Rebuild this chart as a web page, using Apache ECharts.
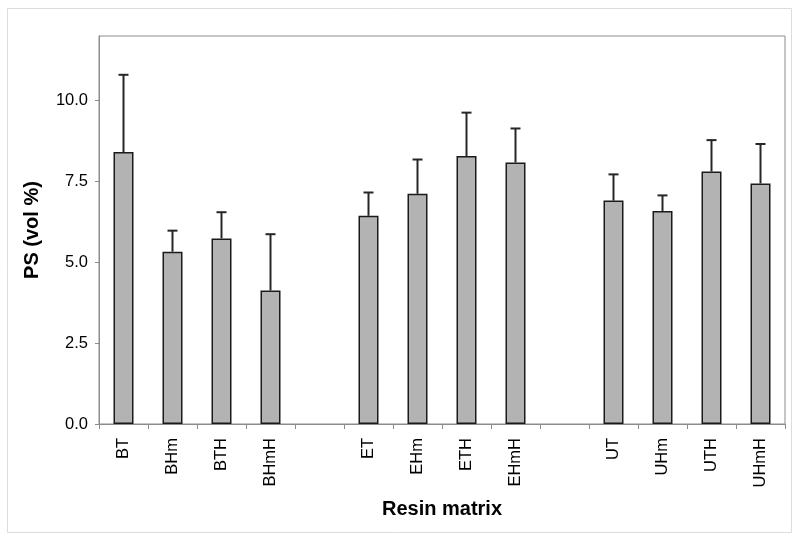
<!DOCTYPE html>
<html>
<head>
<meta charset="utf-8">
<script src="https://cdn.jsdelivr.net/npm/echarts@6/dist/echarts.min.js"></script>
<style>html,body{margin:0;padding:0;background:#fff;}#c{width:800px;height:542px;}</style>
</head>
<body>
<div id="c"></div>
<script>
// Data (empty strings / nulls are the visual gaps between resin groups)
var categories = ['BT','BHm','BTH','BHmH','','ET','EHm','ETH','EHmH','','UT','UHm','UTH','UHmH'];
var means      = [8.41, 5.33, 5.74, 4.13, null, 6.44, 7.12, 8.29, 8.09, null, 6.91, 6.59, 7.81, 7.44];
var upper      = [10.80, 5.98, 6.55, 5.87, null, 7.16, 8.18, 9.63, 9.14, null, 7.72, 7.07, 8.78, 8.66];
var yTicks     = [0, 2.5, 5, 7.5, 10];

var chart = echarts.init(document.getElementById('c'), null, {renderer:'canvas'});
var errData = [];
for (var i = 0; i < categories.length; i++) {
  if (means[i] != null) errData.push([i, means[i], upper[i]]);
}
var font = 'Liberation Sans, Arial, sans-serif';
chart.setOption({
  animation: false,
  backgroundColor: '#fff',
  graphic: [{
    type: 'rect', shape: {x: 7.5, y: 8.5, width: 784, height: 524},
    style: {fill: 'none', stroke: '#dcdcdc', lineWidth: 1}, silent: true, z: -1
  }],
  grid: {left: 99, right: 15, top: 36, bottom: 118, show: true, borderColor: '#8c8c8c', borderWidth: 1, backgroundColor: 'transparent'},
  xAxis: {
    type: 'category', data: categories,
    axisLine: {lineStyle: {color: '#8c8c8c', width: 1}},
    axisTick: {show: true, alignWithLabel: false, length: 5, lineStyle: {color: '#8c8c8c'}},
    axisLabel: {rotate: 90, interval: 0, color: '#000', fontSize: 16.5, fontFamily: font, margin: 14},
    name: 'Resin matrix', nameLocation: 'middle', nameGap: 75,
    nameTextStyle: {fontSize: 20, fontWeight: 'bold', color: '#000', fontFamily: font}
  },
  yAxis: {
    type: 'value', min: 0, max: 12, interval: 2.5,
    splitLine: {show: false},
    axisLine: {show: true, lineStyle: {color: '#8c8c8c', width: 1}},
    axisTick: {show: true, length: 4, lineStyle: {color: '#8c8c8c'}},
    axisLabel: {color: '#000', fontSize: 16.5, fontFamily: font, margin: 11,
      showMaxLabel: false,
      formatter: function (v) { return yTicks.indexOf(v) >= 0 ? v.toFixed(1) : ''; }},
    name: 'PS (vol %)', nameLocation: 'middle', nameGap: 57,
    nameTextStyle: {fontSize: 20, fontWeight: 'bold', color: '#000', fontFamily: font}
  },
  series: [{
    type: 'bar', data: means, barWidth: 20,
    itemStyle: {color: '#b3b3b3', borderColor: '#1a1a1a', borderWidth: 1.5}
  }, {
    type: 'custom', data: errData, z: 3,
    encode: {x: 0, y: [1, 2]},
    renderItem: function (params, api) {
      var x = api.value(0);
      var p0 = api.coord([x, api.value(1)]);
      var p1 = api.coord([x, api.value(2)]);
      var hw = 5;
      return {
        type: 'group',
        children: [
          {type: 'line', shape: {x1: p0[0], y1: p0[1], x2: p1[0], y2: p1[1]}, style: {stroke: '#262626', lineWidth: 2}},
          {type: 'line', shape: {x1: p1[0] - hw, y1: p1[1], x2: p1[0] + hw, y2: p1[1]}, style: {stroke: '#262626', lineWidth: 2}}
        ]
      };
    }
  }]
});
</script>
</body>
</html>
